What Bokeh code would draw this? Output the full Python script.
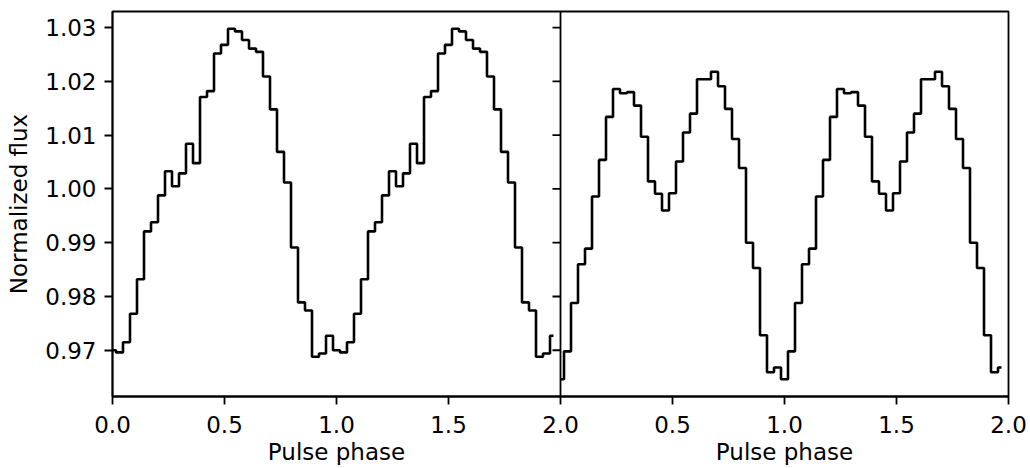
import numpy as np
from bokeh.plotting import figure
from bokeh.models import Range1d, FixedTicker, PrintfTickFormatter, Span
from bokeh.embed import file_html
from bokeh.resources import INLINE

# Folded pulse profiles, 32 phase bins per cycle (bin centres at k/32)
n_bins = 32
flux_left = [0.9700, 0.9696, 0.9715, 0.9768, 0.9832, 0.9921, 0.9938, 0.9988,
             1.0033, 1.0005, 1.0029, 1.0084, 1.0048, 1.0171, 1.0182, 1.0252,
             1.0268, 1.0298, 1.0293, 1.0277, 1.0261, 1.0255, 1.0209, 1.0148,
             1.0069, 1.0012, 0.9891, 0.9789, 0.9774, 0.9688, 0.9694, 0.9727]
flux_right = [0.9646, 0.9698, 0.9788, 0.9860, 0.9889, 0.9986, 1.0054, 1.0134,
              1.0186, 1.0178, 1.0180, 1.0155, 1.0097, 1.0014, 0.9991, 0.9960,
              0.9992, 1.0051, 1.0105, 1.0140, 1.0204, 1.0204, 1.0218, 1.0191,
              1.0149, 1.0093, 1.0039, 0.9900, 0.9853, 0.9728, 0.9659, 0.9668]
n_cycles = 2

y_ticks = [0.97, 0.98, 0.99, 1.00, 1.01, 1.02, 1.03]
panel_ticks = [0.0, 0.5, 1.0, 1.5, 2.0]
y_label = "Normalized flux"
x_label = "Pulse phase"

phase = np.arange(n_bins * n_cycles) / n_bins
left_y = list(flux_left) * n_cycles
right_y = list(flux_right) * n_cycles

FONT = "DejaVu Sans"
FSIZE = "23px"
LW_AX = 1.8
BLACK = "black"

# Two side-by-side panels share one frame: the left panel uses the default
# x range (0..2 fills the left half), the right panel its own range whose
# 0..2 fills the right half.
p = figure(width=1030, height=468,
           x_range=Range1d(0, 4), y_range=Range1d(0.9614, 1.0330),
           min_border_left=112, min_border_right=22,
           min_border_top=11, min_border_bottom=72,
           output_backend="svg", toolbar_location=None)
p.extra_x_ranges = {"right": Range1d(-2, 2)}
p.grid.visible = False
p.outline_line_color = BLACK
p.outline_line_width = LW_AX

p.step(phase, left_y, mode="center", line_color=BLACK, line_width=2.6)
p.step(phase, right_y, mode="center", line_color=BLACK, line_width=2.6,
       x_range_name="right")

# panel divider with inward-pointing y ticks
p.add_layout(Span(location=2.0, dimension="height", line_color=BLACK,
                  line_width=LW_AX))
p.ray(x=[2.0] * len(y_ticks), y=y_ticks, length=8, length_units="screen",
      angle=np.pi, line_color=BLACK, line_width=LW_AX)


def style_axis(ax):
    ax.axis_line_color = BLACK
    ax.axis_line_width = LW_AX
    ax.major_tick_line_color = BLACK
    ax.major_tick_line_width = LW_AX
    ax.major_tick_in = 0
    ax.major_tick_out = 8
    ax.minor_tick_line_color = None
    ax.major_label_text_font = FONT
    ax.major_label_text_font_size = FSIZE
    ax.major_label_text_color = BLACK
    ax.axis_label_text_font = FONT
    ax.axis_label_text_font_size = FSIZE
    ax.axis_label_text_font_style = "normal"
    ax.axis_label_text_color = BLACK


ya = p.yaxis[0]
style_axis(ya)
ya.ticker = FixedTicker(ticks=y_ticks)
ya.formatter = PrintfTickFormatter(format="%.2f")
ya.axis_label = y_label
ya.major_label_standoff = 8
ya.axis_label_standoff = 10

# one bottom axis carries both panels' phase ticks; the tick under each
# panel's centre also carries that panel's axis title on a second line
xa = p.xaxis[0]
style_axis(xa)
frame_ticks = panel_ticks + [t + 2.0 for t in panel_ticks[1:]]
tick_text = [f"{t:.1f}" for t in panel_ticks] + [f"{t:.1f}" for t in panel_ticks[1:]]
for centre in (1.0, 3.0):
    i = frame_ticks.index(centre)
    tick_text[i] = tick_text[i] + "\n" + x_label
xa.ticker = FixedTicker(ticks=frame_ticks)
xa.major_label_overrides = dict(zip(frame_ticks, tick_text))
xa.major_label_standoff = 7
xa.major_label_text_line_height = 1.05

open("out.html", "w").write(file_html(p, INLINE))
